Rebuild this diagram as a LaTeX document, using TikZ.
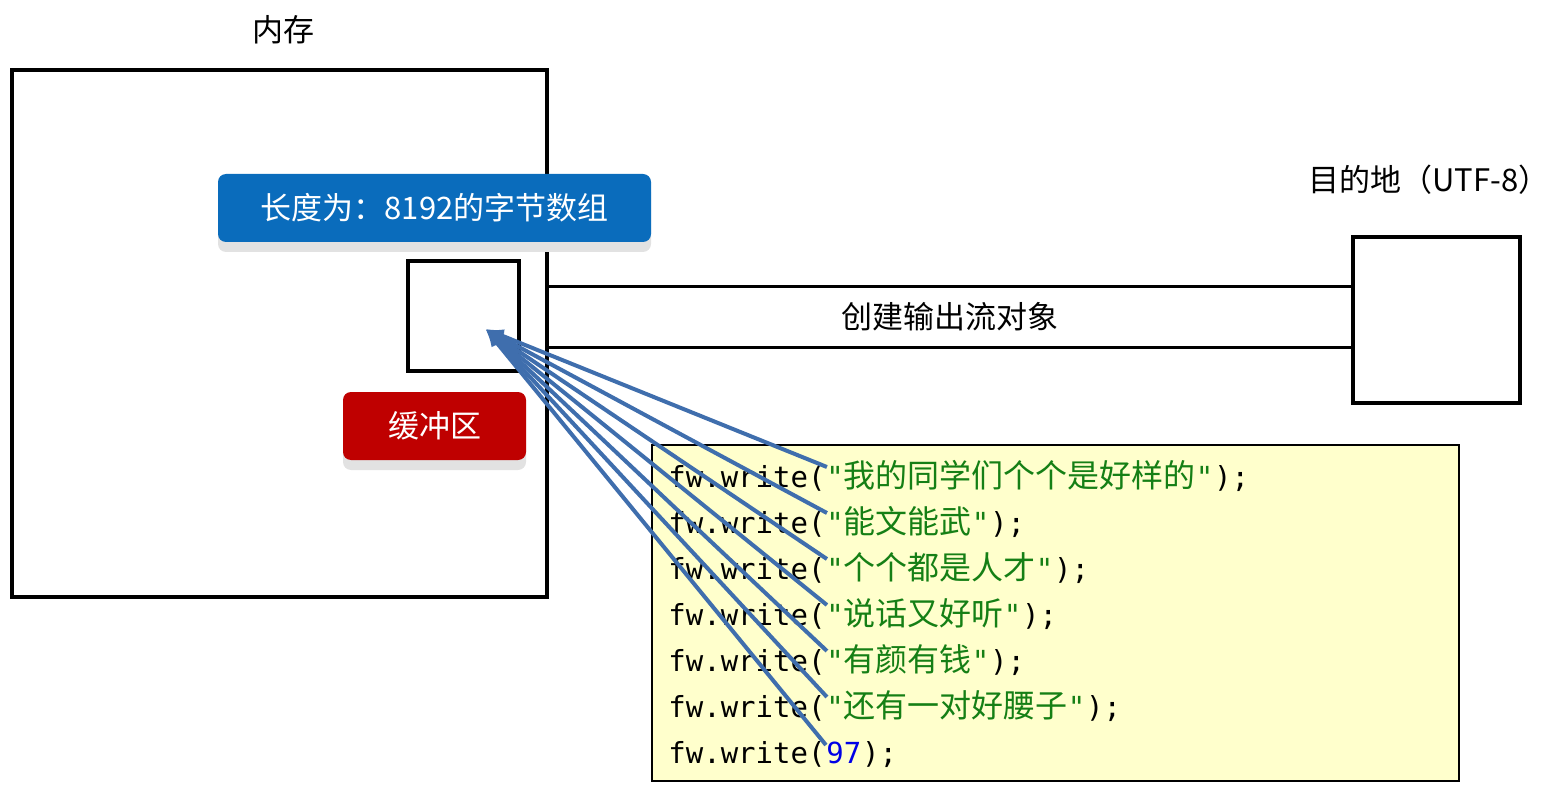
\documentclass[tikz,border=0pt]{standalone}
\usepackage{fontspec}
\setmainfont{Noto Sans CJK SC}
\newfontfamily\cjk{Noto Sans CJK SC}
\newfontfamily\mono{DejaVu Sans Mono}
\usetikzlibrary{arrows.meta,calc,shadows}
\definecolor{boxblue}{HTML}{0A6CBC}
\definecolor{boxred}{HTML}{BF0000}
\definecolor{codebg}{HTML}{FFFFCC}
\definecolor{codegreen}{HTML}{157F15}
\definecolor{codeblue}{HTML}{0000E6}
\definecolor{arrowblue}{HTML}{3F6EAD}
\definecolor{shadowgray}{HTML}{E2E2E2}
\newcommand\codestr[1]{{\color{codegreen}{\mono"}{\cjk\fontsize{16}{18}\selectfont #1}{\mono"}}}
\begin{document}
\begin{tikzpicture}[x=0.5pt,y=-0.5pt,
  lbl/.style={font=\fontsize{15.5}{18}\selectfont, inner sep=0},
  frame/.style={draw=black, line width=1.75pt, inner sep=0},
  tag/.style={rounded corners=4pt, inner sep=0, text=white, minimum height=34pt,
    font=\fontsize{15.5}{18}\selectfont,
    drop shadow={shadow xshift=0pt, shadow yshift=-5pt, fill=shadowgray, opacity=1}},
  code/.style={font=\mono\fontsize{14.5}{17}\selectfont, inner sep=0, anchor=base west},
  arr/.style={draw=arrowblue, line width=2pt, -{Latex[length=9pt,width=7pt]}}]
\useasboundingbox (0,0) rectangle (1547,791);

% memory
\node[lbl] (memlabel) at (283,30) {内存};
\node[frame, minimum width=267.5pt, minimum height=263.5pt] (mem) at (279.5,333.5) {};
\node[tag, fill=boxblue, minimum width=216.5pt] (arraytag) at (434.5,208) {长度为：8192的字节数组};
\node[frame, minimum width=55.5pt, minimum height=55pt] (buf) at (463.5,316) {};
\node[tag, fill=boxred, minimum width=91.5pt] (buftag) at (434.5,426) {缓冲区};

% destination
\node[lbl] (destlabel) at (1429,180) {目的地（UTF-8）};
\node[draw=black, line width=2pt, inner sep=0, minimum width=83.5pt, minimum height=83pt] (dest) at (1436.5,320) {};

% stream
\node[lbl, minimum height=30pt] (stream) at (950,317) {创建输出流对象};
\draw[line width=1.6pt] (mem.east |- stream.north) -- (dest.west |- stream.north);
\draw[line width=1.6pt] (mem.east |- stream.south) -- (dest.west |- stream.south);

% code
\node[draw=black, line width=0.8pt, fill=codebg, inner sep=0, minimum width=403.5pt, minimum height=168pt] (codebox) at (1055.5,613) {};

\node[code] (p1) at (668,487) {fw.write(};
\node[code] (s1) at (p1.base east) {\codestr{我的同学们个个是好样的}};
\node[code] (e1) at (s1.base east) {);};

\node[code] (p2) at (668,533) {fw.write(};
\node[code] (s2) at (p2.base east) {\codestr{能文能武}};
\node[code] (e2) at (s2.base east) {);};

\node[code] (p3) at (668,579) {fw.write(};
\node[code] (s3) at (p3.base east) {\codestr{个个都是人才}};
\node[code] (e3) at (s3.base east) {);};

\node[code] (p4) at (668,625) {fw.write(};
\node[code] (s4) at (p4.base east) {\codestr{说话又好听}};
\node[code] (e4) at (s4.base east) {);};

\node[code] (p5) at (668,671) {fw.write(};
\node[code] (s5) at (p5.base east) {\codestr{有颜有钱}};
\node[code] (e5) at (s5.base east) {);};

\node[code] (p6) at (668,717) {fw.write(};
\node[code] (s6) at (p6.base east) {\codestr{还有一对好腰子}};
\node[code] (e6) at (s6.base east) {);};

\node[code] (p7) at (668,763) {fw.write(};
\node[code] (s7) at (p7.base east) {\color{codeblue}97};
\node[code] (e7) at (s7.base east) {);};

% arrows
\coordinate (tgt) at ($(buf.center)+(22,13)$);
\foreach \i in {1,...,6} {
  \coordinate (a\i) at ($(s\i.base west)+(1,-20)$);
  \draw[arr] (a\i) -- (tgt);
}
\coordinate (a7) at ($(s7.base west)+(0,-18)$);
\draw[arr] (a7) -- (tgt);
\end{tikzpicture}
\end{document}
